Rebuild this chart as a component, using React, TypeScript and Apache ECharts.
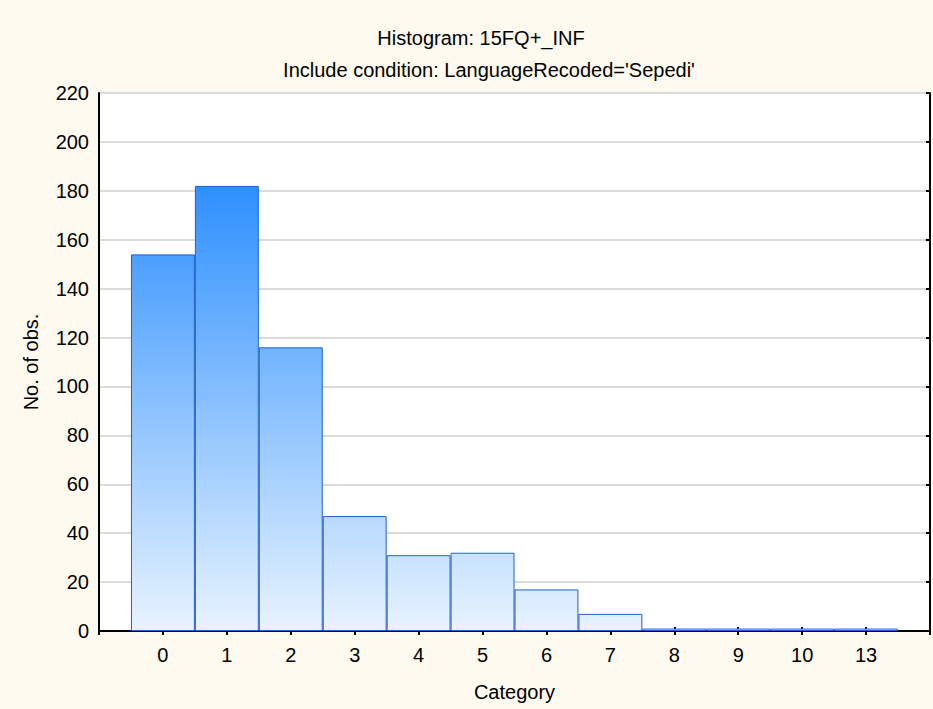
import React, { useEffect, useRef } from "react";
import * as echarts from "echarts";

const categories = ["", "0", "1", "2", "3", "4", "5", "6", "7", "8", "9", "10", "13", ""];
const counts = [154, 182, 116, 47, 31, 32, 17, 7, 1, 1, 1, 1];
const yTicks = { min: 0, max: 220, interval: 20 };
const titleText = "Histogram: 15FQ+_INF";
const subtitleText = "Include condition: LanguageRecoded='Sepedi'";
const xName = "Category";
const yName = "No. of obs.";

const FONT = "'Liberation Sans', Arial, sans-serif";
const FS = 20;
const DARK = [46, 144, 255];
const LIGHT = [232, 243, 254];

function mix(t: number) {
  const c = LIGHT.map((l, i) => Math.round(l + (DARK[i] - l) * t));
  return `rgb(${c[0]},${c[1]},${c[2]})`;
}

export default function App() {
  const ref = useRef<HTMLDivElement>(null);
  useEffect(() => {
    if (!ref.current) return;
    const chart = echarts.init(ref.current, null, { renderer: "svg" });
    const maxV = Math.max(...counts);
    const seriesData: any[] = [null];
    counts.forEach((v) => {
      seriesData.push({
        value: v,
        itemStyle: {
          color: new echarts.graphic.LinearGradient(0, 0, 0, 1, [
            { offset: 0, color: mix(v / maxV) },
            { offset: 1, color: mix(0) },
          ]),
        },
      });
    });
    seriesData.push(null);
    const axisLineStyle = { color: "#000", width: 2 };
    const txt = { fontSize: FS, color: "#000", fontFamily: FONT };
    chart.setOption({
      animation: false,
      backgroundColor: "#FEFAEF",
      textStyle: { fontFamily: FONT },
      title: [
        {
          text: titleText,
          left: 476,
          textAlign: "center",
          top: 23,
          textStyle: { ...txt, fontWeight: "normal" },
        },
        {
          text: subtitleText,
          left: 484,
          textAlign: "center",
          top: 55,
          textStyle: { ...txt, fontWeight: "normal" },
        },
      ],
      grid: { left: 99, top: 93, right: 2, bottom: 78, show: true, backgroundColor: "#fff", borderWidth: 0 },
      xAxis: [
        {
          type: "category",
          data: categories,
          boundaryGap: false,
          position: "bottom",
          name: xName,
          nameLocation: "middle",
          nameGap: 51,
          nameTextStyle: txt,
          axisLine: { lineStyle: axisLineStyle },
          axisTick: { inside: true, length: 4, lineStyle: { color: "#000", width: 2 }, interval: 0 },
          axisLabel: { ...txt, margin: 14, interval: 0 },
          splitLine: { show: false },
        },
        {
          type: "category",
          data: categories,
          boundaryGap: false,
          position: "top",
          axisLine: { lineStyle: axisLineStyle },
          axisTick: { inside: true, length: 4, lineStyle: { color: "#000", width: 2 }, interval: 0 },
          axisLabel: { show: false },
          splitLine: { show: false },
        },
      ],
      yAxis: [
        {
          type: "value",
          min: yTicks.min,
          max: yTicks.max,
          interval: yTicks.interval,
          position: "left",
          name: yName,
          nameLocation: "middle",
          nameGap: 58,
          nameTextStyle: txt,
          axisLine: { show: true, lineStyle: axisLineStyle },
          axisTick: { show: false },
          axisLabel: { ...txt, margin: 10 },
          splitLine: { show: true, lineStyle: { color: "#DADADA", width: 2 } },
        },
        {
          type: "value",
          min: yTicks.min,
          max: yTicks.max,
          interval: yTicks.interval,
          position: "right",
          axisLine: { show: true, lineStyle: axisLineStyle },
          axisTick: { show: true, inside: true, length: 4, lineStyle: { color: "#000", width: 2 } },
          axisLabel: { show: false },
          splitLine: { show: false },
        },
      ],
      series: [
        {
          type: "bar",
          xAxisIndex: 0,
          yAxisIndex: 0,
          data: seriesData,
          barWidth: "100%",
          barCategoryGap: "0%",
          itemStyle: { borderColor: "#1E5FD4", borderWidth: 1 },
          z: 3,
        },
      ],
    });
    return () => chart.dispose();
  }, []);
  return (
    <div
      ref={ref}
      style={{ position: "absolute", left: 0, top: 0, width: 933, height: 709 }}
    />
  );
}
